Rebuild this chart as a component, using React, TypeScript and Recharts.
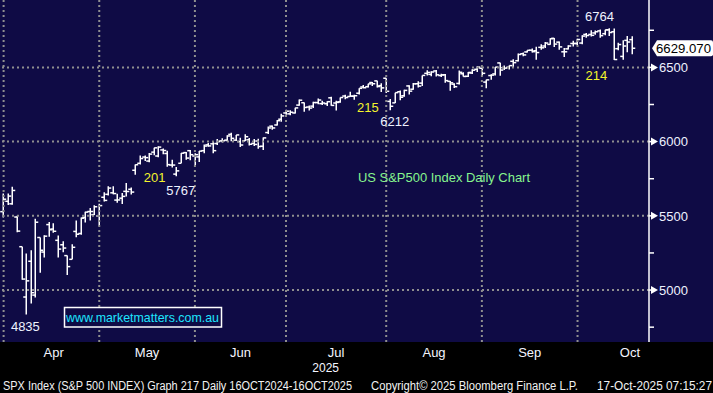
import { ComposedChart, Bar, XAxis, YAxis, ReferenceLine, ReferenceDot } from 'recharts';

// daily sessions, Mar 31 2025 .. Oct 16 2025
const DAYS = [
  'Mar 31', 'Apr 1', 'Apr 2', 'Apr 3', 'Apr 4', 'Apr 7', 'Apr 8', 'Apr 9', 'Apr 10', 'Apr 11',
  'Apr 14', 'Apr 15', 'Apr 16', 'Apr 17', 'Apr 21', 'Apr 22', 'Apr 23', 'Apr 24', 'Apr 25', 'Apr 28',
  'Apr 29', 'Apr 30', 'May 1', 'May 2', 'May 5', 'May 6', 'May 7', 'May 8', 'May 9', 'May 12',
  'May 13', 'May 14', 'May 15', 'May 16', 'May 19', 'May 20', 'May 21', 'May 22', 'May 23', 'May 27',
  'May 28', 'May 29', 'May 30', 'Jun 2', 'Jun 3', 'Jun 4', 'Jun 5', 'Jun 6', 'Jun 9', 'Jun 10',
  'Jun 11', 'Jun 12', 'Jun 13', 'Jun 16', 'Jun 17', 'Jun 18', 'Jun 20', 'Jun 23', 'Jun 24', 'Jun 25',
  'Jun 26', 'Jun 27', 'Jun 30', 'Jul 1', 'Jul 2', 'Jul 3', 'Jul 7', 'Jul 8', 'Jul 9', 'Jul 10',
  'Jul 11', 'Jul 14', 'Jul 15', 'Jul 16', 'Jul 17', 'Jul 18', 'Jul 21', 'Jul 22', 'Jul 23', 'Jul 24',
  'Jul 25', 'Jul 28', 'Jul 29', 'Jul 30', 'Jul 31', 'Aug 1', 'Aug 4', 'Aug 5', 'Aug 6', 'Aug 7',
  'Aug 8', 'Aug 11', 'Aug 12', 'Aug 13', 'Aug 14', 'Aug 15', 'Aug 18', 'Aug 19', 'Aug 20', 'Aug 21',
  'Aug 22', 'Aug 25', 'Aug 26', 'Aug 27', 'Aug 28', 'Aug 29', 'Sep 2', 'Sep 3', 'Sep 4', 'Sep 5',
  'Sep 8', 'Sep 9', 'Sep 10', 'Sep 11', 'Sep 12', 'Sep 15', 'Sep 16', 'Sep 17', 'Sep 18', 'Sep 19',
  'Sep 22', 'Sep 23', 'Sep 24', 'Sep 25', 'Sep 26', 'Sep 29', 'Sep 30', 'Oct 1', 'Oct 2', 'Oct 3',
  'Oct 6', 'Oct 7', 'Oct 8', 'Oct 9', 'Oct 10', 'Oct 13', 'Oct 14', 'Oct 15', 'Oct 16',
];

const OPEN = [
  5528, 5598, 5581, 5492, 5292, 4953, 5194, 4966, 5354, 5256,
  5441, 5411, 5335, 5305, 5232, 5207, 5395, 5381, 5489, 5529,
  5508, 5499, 5625, 5645, 5655, 5606, 5619, 5665, 5679, 5807,
  5854, 5896, 5869, 5929, 5903, 5944, 5920, 5842, 5781, 5854,
  5926, 5939, 5903, 5897, 5939, 5978, 5985, 5987, 6005, 6010,
  6049, 6010, 6000, 6005, 6012, 5988, 6004, 5969, 6061, 6104,
  6112, 6151, 6193, 6187, 6193, 6246, 6262, 6233, 6239, 6263,
  6256, 6255, 6295, 6260, 6268, 6307, 6304, 6306, 6326, 6368,
  6370, 6398, 6409, 6377, 6427, 6271, 6261, 6336, 6309, 6375,
  6353, 6390, 6394, 6460, 6453, 6476, 6445, 6450, 6406, 6387,
  6392, 6457, 6440, 6462, 6487, 6494, 6401, 6445, 6456, 6530,
  6498, 6501, 6541, 6545, 6592, 6604, 6616, 6612, 6635, 6644,
  6655, 6696, 6670, 6605, 6625, 6661, 6661, 6664, 6722, 6722,
  6732, 6746, 6727, 6753, 6740, 6626, 6574, 6682, 6687,
];

const HIGH = [
  5651, 5650, 5696, 5500, 5292, 5247, 5268, 5481, 5354, 5370,
  5459, 5450, 5367, 5328, 5232, 5309, 5469, 5489, 5528, 5553,
  5571, 5581, 5659, 5700, 5700, 5649, 5654, 5721, 5691, 5845,
  5906, 5906, 5924, 5959, 5968, 5953, 5939, 5878, 5829, 5924,
  5930, 5944, 5922, 5937, 5981, 5990, 5999, 6017, 6022, 6043,
  6059, 6045, 6026, 6050, 6024, 6018, 6019, 6028, 6101, 6109,
  6146, 6187, 6215, 6211, 6228, 6284, 6263, 6243, 6269, 6290,
  6275, 6272, 6302, 6275, 6298, 6316, 6336, 6316, 6360, 6381,
  6390, 6401, 6410, 6394, 6427, 6287, 6330, 6344, 6350, 6380,
  6395, 6407, 6446, 6481, 6474, 6482, 6457, 6455, 6408, 6394,
  6479, 6467, 6469, 6487, 6508, 6494, 6416, 6453, 6503, 6532,
  6512, 6513, 6555, 6593, 6601, 6616, 6627, 6639, 6656, 6671,
  6696, 6698, 6675, 6631, 6649, 6679, 6693, 6716, 6731, 6750,
  6749, 6755, 6753, 6764, 6762, 6666, 6683, 6712, 6709,
];

const LOW = [
  5489, 5573, 5575, 5390, 5069, 4835, 4910, 4950, 5116, 5220,
  5359, 5386, 5220, 5255, 5101, 5207, 5356, 5372, 5455, 5468,
  5506, 5433, 5597, 5637, 5646, 5588, 5579, 5631, 5644, 5777,
  5846, 5869, 5861, 5908, 5895, 5915, 5830, 5825, 5767, 5854,
  5878, 5874, 5843, 5862, 5922, 5966, 5921, 5978, 5994, 6000,
  6002, 6004, 5964, 6004, 5974, 5970, 5952, 5943, 6051, 6080,
  6108, 6133, 6181, 6177, 6189, 6241, 6201, 6210, 6226, 6252,
  6246, 6240, 6241, 6210, 6261, 6285, 6302, 6282, 6317, 6360,
  6364, 6375, 6364, 6335, 6327, 6212, 6260, 6279, 6303, 6318,
  6350, 6365, 6374, 6445, 6441, 6439, 6435, 6396, 6343, 6361,
  6385, 6438, 6435, 6456, 6469, 6441, 6360, 6416, 6446, 6443,
  6482, 6485, 6497, 6540, 6575, 6600, 6600, 6551, 6619, 6630,
  6652, 6638, 6619, 6570, 6620, 6641, 6649, 6656, 6699, 6708,
  6720, 6699, 6717, 6711, 6550, 6616, 6551, 6602, 6588,
];

const CLOSE = [
  5612, 5633, 5671, 5397, 5074, 5062, 4982, 5457, 5268, 5363,
  5406, 5396, 5276, 5283, 5158, 5288, 5376, 5484, 5525, 5529,
  5561, 5569, 5604, 5687, 5650, 5607, 5631, 5664, 5660, 5844,
  5886, 5892, 5916, 5958, 5963, 5940, 5845, 5842, 5803, 5922,
  5889, 5912, 5912, 5936, 5970, 5971, 5939, 6000, 6006, 6038,
  6022, 6045, 5977, 6033, 5982, 5981, 5967, 6025, 6092, 6092,
  6141, 6173, 6205, 6198, 6227, 6279, 6230, 6226, 6263, 6280,
  6260, 6269, 6244, 6264, 6297, 6297, 6306, 6309, 6359, 6363,
  6389, 6390, 6371, 6362, 6339, 6238, 6330, 6299, 6345, 6340,
  6389, 6374, 6446, 6466, 6469, 6450, 6449, 6411, 6396, 6370,
  6467, 6439, 6466, 6481, 6502, 6460, 6416, 6448, 6502, 6482,
  6495, 6512, 6532, 6587, 6584, 6615, 6606, 6600, 6632, 6664,
  6693, 6657, 6638, 6605, 6644, 6661, 6688, 6711, 6715, 6716,
  6740, 6714, 6753, 6735, 6553, 6654, 6644, 6671, 6629,
];

// last session of each month -> month separators
const MONTH_BOUNDS = [0, 21, 42, 62, 84, 105, 126];
const MONTH_LABELS = ['Apr', 'May', 'Jun', 'Jul', 'Aug', 'Sep', 'Oct'];
const MONTH_LABEL_POS = [11, 31.5, 52, 73, 94.5, 115.5, 137.5];
const YEAR_LABEL = '2025';
const YEAR_POS = 70.7;

const Y_MAJOR = [5000, 5500, 6000, 6500];
const Y_MINOR = [4750, 5250, 5750, 6250, 6750];
const LAST_PRICE = 6629.07;

const X_DOMAIN: [number, number] = [-0.79, 141.69];
const Y_DOMAIN: [number, number] = [4650, 6954];

const NAVY = '#0f0b45';
const GRID = '#8f8f8f';
const FONT = '"Liberation Sans", Arial, sans-serif';
const NUM_WHITE = '#eef2ff';
const YELLOW = '#f4f42c';

const data = DAYS.map((d, i) => ({
  i,
  day: d,
  open: OPEN[i],
  high: HIGH[i],
  low: LOW[i],
  close: CLOSE[i],
  range: [LOW[i], HIGH[i]],
}));

function OhlcShape(props: any) {
  const { x, y, width, height, payload } = props;
  if (x == null || y == null || !payload) return null;
  const top = Math.min(y, y + height);
  const h = Math.abs(height);
  const k = h / (payload.high - payload.low);
  const cx = Math.round(x + width / 2) + 0.25;
  const yo = top + (payload.high - payload.open) * k;
  const yc = top + (payload.high - payload.close) * k;
  return (
    <g stroke="#fff" strokeWidth={1.5}>
      <line x1={cx} x2={cx} y1={top} y2={top + h} />
      <line x1={cx - 3} x2={cx} y1={yo} y2={yo} />
      <line x1={cx} x2={cx + 3} y1={yc} y2={yc} />
    </g>
  );
}

function PriceTick(props: any) {
  const { x, y, payload } = props;
  const v = payload.value;
  if (!Y_MAJOR.includes(v)) {
    return <line x1={x} x2={x + 5} y1={y} y2={y} stroke="#fff" strokeWidth={1.5} />;
  }
  return (
    <g>
      <line x1={x} x2={x + 3} y1={y} y2={y} stroke="#fff" strokeWidth={1.5} />
      <polygon points={`${x + 2},${y - 4} ${x + 2},${y + 4} ${x + 9},${y}`} fill="#fff" />
      <text x={x + 10} y={y} dy="0.36em" fill={NUM_WHITE} fontSize={13} fontFamily={FONT}>
        {v}
      </text>
    </g>
  );
}

function MonthTick(props: any) {
  const { x, y, payload } = props;
  const v = payload.value;
  if (v === YEAR_POS) {
    return (
      <text x={x} y={y + 26} dy="0.36em" textAnchor="middle" fill="#f4f6ff" fontSize={12} fontFamily={FONT}>
        {YEAR_LABEL}
      </text>
    );
  }
  const idx = MONTH_LABEL_POS.indexOf(v);
  return (
    <text x={x} y={y + 10} dy="0.36em" textAnchor="middle" fill="#f4f6ff" fontSize={13} fontFamily={FONT}>
      {MONTH_LABELS[idx]}
    </text>
  );
}

const noTick = () => <g />;

const note = (text: string, color: string, dx: number, dy: number) => (p: any) => {
  const vb = p.viewBox || {};
  const cx = (vb.x ?? 0) + (vb.width ?? 0) / 2;
  const cy = (vb.y ?? 0) + (vb.height ?? 0) / 2;
  return (
    <text x={cx + dx} y={cy + dy} dy="0.36em" textAnchor="middle" fill={color} fontSize={13} fontFamily={FONT}>
      {text}
    </text>
  );
};

const priceTag = (p: any) => {
  const vb = p.viewBox || {};
  const tip = vb.x + vb.width + 3;
  const cy = vb.y;
  const d = `M${tip},${cy} L${tip + 5},${cy - 8} H711 Q713,${cy - 8} 713,${cy - 6} V${cy + 6} Q713,${cy + 8} 711,${cy + 8} H${tip + 5} Z`;
  return (
    <g>
      <path d={d} fill="#fff" />
      <text x={tip + 4} y={cy} dy="0.36em" fill="#000" fontSize={13} fontFamily={FONT} textLength={55} lengthAdjust="spacingAndGlyphs">
        {LAST_PRICE.toFixed(3)}
      </text>
    </g>
  );
};

export default function App() {
  return (
    <div style={{ position: 'absolute', left: 0, top: 0, width: 713, height: 393, background: '#000', overflow: 'hidden' }}>
      <div style={{ position: 'absolute', left: 0, top: 0, width: 713, height: 342, background: NAVY }} />
      <div style={{ position: 'absolute', left: 0, top: 0 }}>
        <ComposedChart width={713} height={393} data={data} margin={{ top: 0, right: 0, bottom: 0, left: 0 }}>
          <XAxis
            type="number"
            dataKey="i"
            domain={X_DOMAIN}
            allowDataOverflow
            ticks={MONTH_BOUNDS}
            interval={0}
            tick={noTick}
            tickSize={4}
            tickLine={{ stroke: '#fff', strokeWidth: 1.5 }}
            axisLine={{ stroke: '#fff', strokeWidth: 2 }}
            height={0}
          />
          <XAxis
            xAxisId="lbl"
            type="number"
            dataKey="i"
            domain={X_DOMAIN}
            allowDataOverflow
            ticks={[...MONTH_LABEL_POS, YEAR_POS]}
            interval={0}
            tick={MonthTick}
            tickLine={false}
            axisLine={false}
            tickSize={0}
            tickMargin={0}
            height={51}
          />
          <YAxis
            orientation="right"
            type="number"
            domain={Y_DOMAIN}
            allowDataOverflow
            ticks={[...Y_MINOR, ...Y_MAJOR].sort((a, b) => a - b)}
            interval={0}
            tick={PriceTick}
            tickLine={false}
            tickSize={0}
            tickMargin={0}
            axisLine={{ stroke: '#fff', strokeWidth: 1.5 }}
            width={64}
          />
          {Y_MAJOR.map((v) => (
            <ReferenceLine key={'h' + v} y={v} stroke={GRID} strokeWidth={2} strokeDasharray="2 3" />
          ))}
          {MONTH_BOUNDS.map((b) => (
            <ReferenceLine key={'v' + b} x={b} stroke={GRID} strokeWidth={2} strokeDasharray="2 3" />
          ))}
          <Bar dataKey="range" barSize={4} shape={OhlcShape} isAnimationActive={false} />
          <ReferenceLine y={LAST_PRICE} stroke="none" ifOverflow="visible" label={priceTag} />
          <ReferenceDot x={5} y={4835} r={1} fill="none" stroke="none" ifOverflow="visible" label={note('4835', NUM_WHITE, -1, 11.5)} />
          <ReferenceDot x={38} y={5767} r={1} fill="none" stroke="none" ifOverflow="visible" label={note('5767', NUM_WHITE, 4, 14)} />
          <ReferenceDot x={38} y={5767} r={1} fill="none" stroke="none" ifOverflow="visible" label={note('201', YELLOW, -22, 1.5)} />
          <ReferenceDot x={85} y={6212} r={1} fill="none" stroke="none" ifOverflow="visible" label={note('6212', NUM_WHITE, 4, 11.5)} />
          <ReferenceDot x={85} y={6212} r={1} fill="none" stroke="none" ifOverflow="visible" label={note('215', YELLOW, -23, -3)} />
          <ReferenceDot x={133} y={6764} r={1} fill="none" stroke="none" ifOverflow="visible" label={note('6764', NUM_WHITE, -10, -12)} />
          <ReferenceDot x={133} y={6764} r={1} fill="none" stroke="none" ifOverflow="visible" label={note('214', YELLOW, -13, 47)} />
        </ComposedChart>
      </div>
      <svg width={713} height={393} style={{ position: 'absolute', left: 0, top: 0, pointerEvents: 'none' }}>
        <text x={358} y={177.5} dy="0.36em" fill="#86f58e" fontSize={13} fontFamily={FONT} textLength={172} lengthAdjust="spacingAndGlyphs">
          US S&amp;P500 Index Daily Chart
        </text>
        <rect x={64.5} y={307.5} width={157} height={19.5} fill={NAVY} stroke="#fff" strokeWidth={1.5} />
        <text x={66} y={317.5} dy="0.36em" fill="#1ee6ff" fontSize={13} fontFamily={FONT} textLength={153} lengthAdjust="spacingAndGlyphs">
          www.marketmatters.com.au
        </text>
        <g fill="#f2f2f2" fontSize={12} fontFamily={FONT}>
          <text x={3} y={390} textLength={349} lengthAdjust="spacingAndGlyphs">
            SPX Index (S&amp;P 500 INDEX) Graph 217 Daily 16OCT2024-16OCT2025
          </text>
          <text x={371} y={390} textLength={207} lengthAdjust="spacingAndGlyphs">
            Copyright© 2025 Bloomberg Finance L.P.
          </text>
          <text x={597} y={390} textLength={115} lengthAdjust="spacingAndGlyphs">
            17-Oct-2025 07:15:27
          </text>
        </g>
      </svg>
    </div>
  );
}
